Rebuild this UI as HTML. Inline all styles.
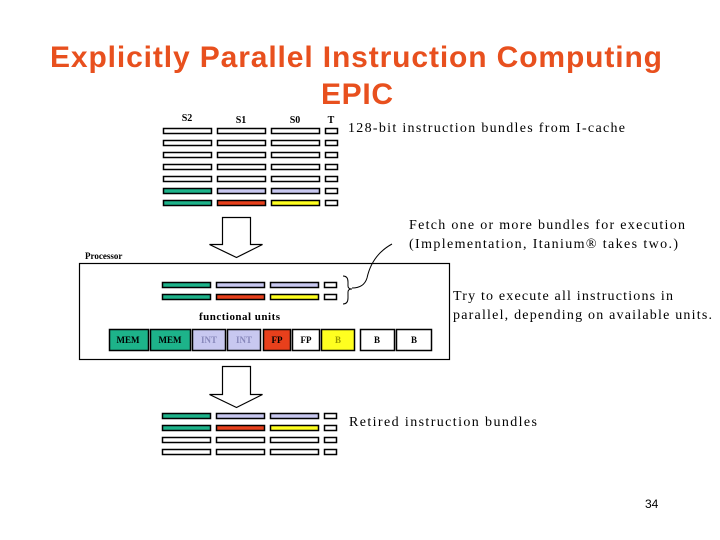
<!DOCTYPE html>
<html><head><meta charset="utf-8"><style>
body{margin:0;background:#fff}
svg{display:block}
</style></head><body>
<svg width="720" height="540" xmlns="http://www.w3.org/2000/svg">
<text x="50" y="67" textLength="612" lengthAdjust="spacing" font-family="Liberation Sans, sans-serif" font-weight="bold" font-size="30" fill="#e8501e">Explicitly Parallel Instruction Computing</text>
<text x="321" y="104" textLength="72" lengthAdjust="spacing" font-family="Liberation Sans, sans-serif" font-weight="bold" font-size="30" fill="#e8501e">EPIC</text>
<g font-family="Liberation Serif, serif" font-weight="bold" font-size="10" fill="#000" text-anchor="middle">
<text x="187" y="121">S2</text><text x="241" y="123">S1</text><text x="295" y="123">S0</text><text x="331" y="123">T</text>
</g>
<g stroke="#000" stroke-width="1.5">
<g fill="#fff">
<rect x="163.5" y="128.5" width="48" height="5"/><rect x="217.5" y="128.5" width="48" height="5"/><rect x="271.5" y="128.5" width="48" height="5"/><rect x="325.5" y="128.5" width="12" height="5"/>
<rect x="163.5" y="140.5" width="48" height="5"/><rect x="217.5" y="140.5" width="48" height="5"/><rect x="271.5" y="140.5" width="48" height="5"/><rect x="325.5" y="140.5" width="12" height="5"/>
<rect x="163.5" y="152.5" width="48" height="5"/><rect x="217.5" y="152.5" width="48" height="5"/><rect x="271.5" y="152.5" width="48" height="5"/><rect x="325.5" y="152.5" width="12" height="5"/>
<rect x="163.5" y="164.5" width="48" height="5"/><rect x="217.5" y="164.5" width="48" height="5"/><rect x="271.5" y="164.5" width="48" height="5"/><rect x="325.5" y="164.5" width="12" height="5"/>
<rect x="163.5" y="176.5" width="48" height="5"/><rect x="217.5" y="176.5" width="48" height="5"/><rect x="271.5" y="176.5" width="48" height="5"/><rect x="325.5" y="176.5" width="12" height="5"/>
<rect x="325.5" y="188.5" width="12" height="5"/><rect x="325.5" y="200.5" width="12" height="5"/>
</g>
<rect x="163.5" y="188.5" width="48" height="5" fill="#1db38a"/><rect x="217.5" y="188.5" width="48" height="5" fill="#c8c8f0"/><rect x="271.5" y="188.5" width="48" height="5" fill="#c8c8f0"/>
<rect x="163.5" y="200.5" width="48" height="5" fill="#1db38a"/><rect x="217.5" y="200.5" width="48" height="5" fill="#e8401c"/><rect x="271.5" y="200.5" width="48" height="5" fill="#ffff20"/>
</g>
<g stroke="#000" stroke-width="1.2">
<path d="M222.5 217.5 H250.5 V244.5 H262.5 L236.5 257.5 L209.5 244.5 H222.5 Z" fill="#fff"/>
<path d="M222.5 366.5 H250.5 V394.5 H262.5 L236.5 407.5 L209.5 394.5 H222.5 Z" fill="#fff"/>
<rect x="79.5" y="263.5" width="370" height="96" fill="none"/>
</g>
<g stroke="#000" stroke-width="1.5">
<rect x="162.5" y="282.5" width="48" height="5" fill="#1db38a"/><rect x="216.5" y="282.5" width="48" height="5" fill="#c8c8f0"/><rect x="270.5" y="282.5" width="48" height="5" fill="#c8c8f0"/><rect x="324.5" y="282.5" width="12" height="5" fill="#fff"/>
<rect x="162.5" y="294.5" width="48" height="5" fill="#1db38a"/><rect x="216.5" y="294.5" width="48" height="5" fill="#e8401c"/><rect x="270.5" y="294.5" width="48" height="5" fill="#ffff20"/><rect x="324.5" y="294.5" width="12" height="5" fill="#fff"/>
<rect x="109.5" y="329.5" width="39" height="21" fill="#1db38a"/>
<rect x="150.5" y="329.5" width="40" height="21" fill="#1db38a"/>
<rect x="192.5" y="329.5" width="33" height="21" fill="#c8c8f0"/>
<rect x="227.5" y="329.5" width="33" height="21" fill="#c8c8f0"/>
<rect x="263.5" y="329.5" width="27" height="21" fill="#e8401c"/>
<rect x="292.5" y="329.5" width="27" height="21" fill="#fff"/>
<rect x="321.5" y="329.5" width="33" height="21" fill="#ffff20"/>
<rect x="360.5" y="329.5" width="34" height="21" fill="#fff"/>
<rect x="396.5" y="329.5" width="35" height="21" fill="#fff"/>
<rect x="162.5" y="413.5" width="48" height="5" fill="#1db38a"/><rect x="216.5" y="413.5" width="48" height="5" fill="#c8c8f0"/><rect x="270.5" y="413.5" width="48" height="5" fill="#c8c8f0"/><rect x="324.5" y="413.5" width="12" height="5" fill="#fff"/>
<rect x="162.5" y="425.5" width="48" height="5" fill="#1db38a"/><rect x="216.5" y="425.5" width="48" height="5" fill="#e8401c"/><rect x="270.5" y="425.5" width="48" height="5" fill="#ffff20"/><rect x="324.5" y="425.5" width="12" height="5" fill="#fff"/>
<g fill="#fff"><rect x="162.5" y="437.5" width="48" height="5"/><rect x="216.5" y="437.5" width="48" height="5"/><rect x="270.5" y="437.5" width="48" height="5"/><rect x="324.5" y="437.5" width="12" height="5"/>
<rect x="162.5" y="449.5" width="48" height="5"/><rect x="216.5" y="449.5" width="48" height="5"/><rect x="270.5" y="449.5" width="48" height="5"/><rect x="324.5" y="449.5" width="12" height="5"/></g>
</g>
<path d="M343 276 Q348 276 348 282 V286 Q348 289 352 289 Q348 289 348 292 V298 Q348 304 343 304" fill="none" stroke="#000" stroke-width="1"/>
<path d="M352 288 Q364 288 367 278 Q372 255 392 244" fill="none" stroke="#000" stroke-width="1"/>
<g font-family="Liberation Serif, serif" font-weight="bold" font-size="9" text-anchor="middle">
<text x="128" y="343" fill="#000">MEM</text><text x="170" y="343" fill="#000">MEM</text>
<text x="209" y="343" fill="#8888bb">INT</text><text x="244" y="343" fill="#8888bb">INT</text>
<text x="277" y="343" fill="#000">FP</text><text x="306" y="343" fill="#000">FP</text>
<text x="338" y="343" fill="#999900">B</text><text x="377" y="343" fill="#000">B</text><text x="414" y="343" fill="#000">B</text>
</g>
<text x="85" y="259" font-family="Liberation Serif, serif" font-weight="bold" font-size="9">Processor</text>
<text x="199" y="320" textLength="81" lengthAdjust="spacing" font-family="Liberation Serif, serif" font-weight="bold" font-size="11">functional units</text>
<g font-family="Liberation Serif, serif" font-size="14" fill="#000" lengthAdjust="spacing">
<text x="348" y="132" textLength="277" lengthAdjust="spacing">128-bit instruction bundles from I-cache</text>
<text x="409" y="229" textLength="276" lengthAdjust="spacing">Fetch one or more bundles for execution</text>
<text x="409" y="248" textLength="269" lengthAdjust="spacing">(Implementation, Itanium® takes two.)</text>
<text x="453" y="300" textLength="220" lengthAdjust="spacing">Try to execute all instructions in</text>
<text x="453" y="319" textLength="259" lengthAdjust="spacing">parallel, depending on available units.</text>
<text x="349" y="426" textLength="188" lengthAdjust="spacing">Retired instruction bundles</text>
<text x="645" y="508" font-family="Liberation Sans, sans-serif" font-size="12">34</text>
</g>
</svg>
</body></html>
